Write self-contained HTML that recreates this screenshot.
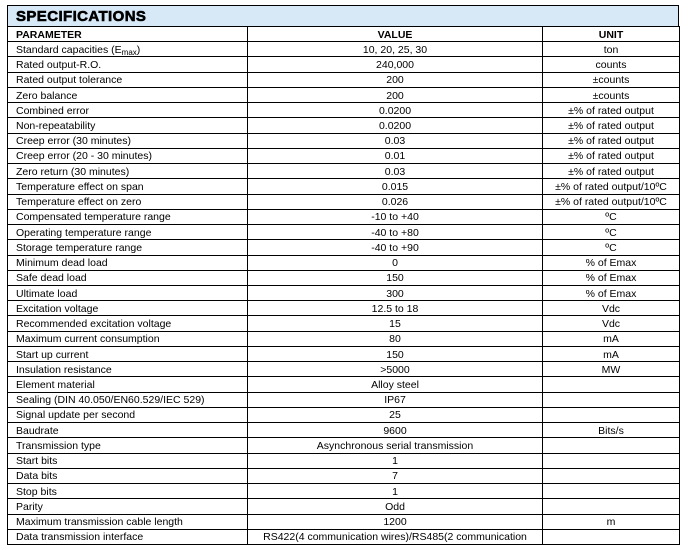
<!DOCTYPE html><html><head><style>
body{margin:0;width:691px;height:550px;background:#fff;font-family:"Liberation Sans",Arial,sans-serif;}
.t{position:absolute;left:7px;top:5px;width:672px;height:21px;background:#d7e9f6;border:1px solid #000;border-bottom:none;box-sizing:border-box;font-weight:bold;font-size:15px;line-height:22px;padding-left:8px;letter-spacing:0.4px;-webkit-text-stroke:0.6px #000}
table{position:absolute;left:7px;top:26px;border-collapse:collapse;width:672px;height:519px;table-layout:fixed}
td{border:1px solid #000;padding:1px 0 0 8px;font-size:10.5px;line-height:12px;white-space:nowrap;overflow:visible;vertical-align:middle}
td:nth-child(2),td:nth-child(3){text-align:center;padding-left:0}
tr:first-child td{font-weight:bold}
sub{font-size:8px;vertical-align:-2px;line-height:0}
</style></head><body>
<div class="t">SPECIFICATIONS</div>
<table><colgroup><col style="width:240px"><col style="width:295px"><col style="width:137px"></colgroup>
<tr><td>PARAMETER</td><td>VALUE</td><td>UNIT</td></tr>
<tr><td>Standard capacities (E<sub>max</sub>)</td><td>10, 20, 25, 30</td><td>ton</td></tr>
<tr><td>Rated output-R.O.</td><td>240,000</td><td>counts</td></tr>
<tr><td>Rated output tolerance</td><td>200</td><td>±counts</td></tr>
<tr><td>Zero balance</td><td>200</td><td>±counts</td></tr>
<tr><td>Combined error</td><td>0.0200</td><td>±% of rated output</td></tr>
<tr><td>Non-repeatability</td><td>0.0200</td><td>±% of rated output</td></tr>
<tr><td>Creep error (30 minutes)</td><td>0.03</td><td>±% of rated output</td></tr>
<tr><td>Creep error (20 - 30 minutes)</td><td>0.01</td><td>±% of rated output</td></tr>
<tr><td>Zero return (30 minutes)</td><td>0.03</td><td>±% of rated output</td></tr>
<tr><td>Temperature effect on span</td><td>0.015</td><td>±% of rated output/10ºC</td></tr>
<tr><td>Temperature effect on zero</td><td>0.026</td><td>±% of rated output/10ºC</td></tr>
<tr><td>Compensated temperature range</td><td>-10 to +40</td><td>ºC</td></tr>
<tr><td>Operating temperature range</td><td>-40 to +80</td><td>ºC</td></tr>
<tr><td>Storage temperature range</td><td>-40 to +90</td><td>ºC</td></tr>
<tr><td>Minimum dead load</td><td>0</td><td>% of Emax</td></tr>
<tr><td>Safe dead load</td><td>150</td><td>% of Emax</td></tr>
<tr><td>Ultimate load</td><td>300</td><td>% of Emax</td></tr>
<tr><td>Excitation voltage</td><td>12.5 to 18</td><td>Vdc</td></tr>
<tr><td>Recommended excitation voltage</td><td>15</td><td>Vdc</td></tr>
<tr><td>Maximum current consumption</td><td>80</td><td>mA</td></tr>
<tr><td>Start up current</td><td>150</td><td>mA</td></tr>
<tr><td>Insulation resistance</td><td>&gt;5000</td><td>MW</td></tr>
<tr><td>Element material</td><td>Alloy steel</td><td></td></tr>
<tr><td>Sealing (DIN 40.050/EN60.529/IEC 529)</td><td>IP67</td><td></td></tr>
<tr><td>Signal update per second</td><td>25</td><td></td></tr>
<tr><td>Baudrate</td><td>9600</td><td>Bits/s</td></tr>
<tr><td>Transmission type</td><td>Asynchronous serial transmission</td><td></td></tr>
<tr><td>Start bits</td><td>1</td><td></td></tr>
<tr><td>Data bits</td><td>7</td><td></td></tr>
<tr><td>Stop bits</td><td>1</td><td></td></tr>
<tr><td>Parity</td><td>Odd</td><td></td></tr>
<tr><td>Maximum transmission cable length</td><td>1200</td><td>m</td></tr>
<tr><td>Data transmission interface</td><td>RS422(4 communication wires)/RS485(2 communication</td><td></td></tr>
</table></body></html>
